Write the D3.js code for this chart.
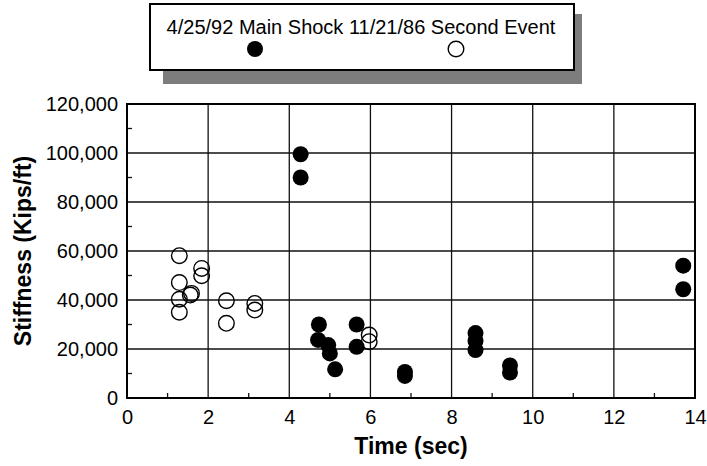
<!DOCTYPE html>
<html>
<head>
<meta charset="utf-8">
<script src="https://cdn.jsdelivr.net/npm/d3@7"></script>
<style>
  body { margin: 0; background: #fff; }
  text { font-family: "Liberation Sans", Arial, Helvetica, sans-serif; }
</style>
</head>
<body>
<div id="chart"></div>
<script>
// Main shock 4/25/92 (filled) : time (sec), stiffness (kips/ft)
var mainTime = [4.28, 4.28, 4.73, 4.71, 4.96, 5.0, 5.13, 5.66, 5.66, 6.85, 6.85, 8.59, 8.59, 8.59, 9.44, 9.44, 13.71, 13.71];
var mainStiff = [99500, 90000, 30000, 23700, 21600, 18200, 11700, 30000, 20900, 10600, 9000, 26500, 23300, 19600, 13300, 10400, 54000, 44400];

// Second event 11/21/86 (open)
var secondTime = [1.29, 1.84, 1.84, 1.29, 1.59, 1.56, 1.29, 1.29, 2.45, 2.45, 3.15, 3.15, 5.97, 5.97];
var secondStiff = [58100, 52900, 49900, 47100, 42700, 42000, 40300, 35000, 39700, 30500, 38600, 35900, 25700, 23000];

var xTicks = [0, 2, 4, 6, 8, 10, 12, 14];
var yTicks = [0, 20000, 40000, 60000, 80000, 100000, 120000];
var legendLabel = "4/25/92 Main Shock 11/21/86 Second Event";

var W = 707, H = 466;
var margin = {top: 104, right: 12, bottom: 68, left: 127};
var width = W - margin.left - margin.right;
var height = H - margin.top - margin.bottom;

var svg = d3.select("#chart").append("svg")
  .attr("width", W)
  .attr("height", H);

var g = svg.append("g")
  .attr("transform", "translate(" + margin.left + "," + margin.top + ")");

var x = d3.scaleLinear().domain([0, 14]).range([0, width]);
var y = d3.scaleLinear().domain([0, 120000]).range([height, 0]);

// grid lines
g.selectAll(".vgrid")
  .data(xTicks.slice(1, -1)).enter()
  .append("line")
  .attr("x1", function(d) { return x(d); })
  .attr("x2", function(d) { return x(d); })
  .attr("y1", 0).attr("y2", height)
  .attr("stroke", "#111").attr("stroke-width", 1.3);

g.selectAll(".hgrid")
  .data(yTicks.slice(1, -1)).enter()
  .append("line")
  .attr("y1", function(d) { return y(d); })
  .attr("y2", function(d) { return y(d); })
  .attr("x1", 0).attr("x2", width)
  .attr("stroke", "#111").attr("stroke-width", 1.3);

// minor ticks
var yMinor = d3.range(10000, 120000, 20000);
g.selectAll(".ymin")
  .data(yMinor).enter()
  .append("line")
  .attr("x1", 0).attr("x2", 5)
  .attr("y1", function(d) { return y(d); })
  .attr("y2", function(d) { return y(d); })
  .attr("stroke", "#111").attr("stroke-width", 1.3);

var xMinor = d3.range(1, 14, 2);
g.selectAll(".xmin")
  .data(xMinor).enter()
  .append("line")
  .attr("x1", function(d) { return x(d); })
  .attr("x2", function(d) { return x(d); })
  .attr("y1", height).attr("y2", height - 5)
  .attr("stroke", "#111").attr("stroke-width", 1.3);

// frame
g.append("rect")
  .attr("width", width).attr("height", height)
  .attr("fill", "none")
  .attr("stroke", "#000").attr("stroke-width", 2);

// tick labels
var xAxis = g.append("g")
  .attr("transform", "translate(0," + height + ")")
  .call(d3.axisBottom(x).tickValues(xTicks).tickSize(0).tickPadding(12));
xAxis.select(".domain").remove();
xAxis.selectAll("text")
  .style("font-size", "20px")
  .attr("fill", "#000");

var yAxis = g.append("g")
  .call(d3.axisLeft(y).tickValues(yTicks).tickSize(0).tickPadding(9)
    .tickFormat(d3.format(",")));
yAxis.select(".domain").remove();
yAxis.selectAll("text")
  .style("font-size", "20px")
  .attr("fill", "#000");

// axis titles
svg.append("text")
  .attr("x", margin.left + width / 2)
  .attr("y", 454)
  .attr("text-anchor", "middle")
  .style("font-size", "23px")
  .style("font-weight", "bold")
  .text("Time (sec)");

svg.append("text")
  .attr("transform", "translate(31," + (margin.top + height / 2) + ") rotate(-90)")
  .attr("text-anchor", "middle")
  .style("font-size", "23px")
  .style("font-weight", "bold")
  .text("Stiffness (Kips/ft)");

// points
var mainData = mainTime.map(function(t, i) { return {t: t, v: mainStiff[i]}; });
var secondData = secondTime.map(function(t, i) { return {t: t, v: secondStiff[i]}; });

g.selectAll(".open")
  .data(secondData).enter()
  .append("circle")
  .attr("cx", function(d) { return x(d.t); })
  .attr("cy", function(d) { return y(d.v); })
  .attr("r", 7.8)
  .attr("fill", "none")
  .attr("stroke", "#000")
  .attr("stroke-width", 1.4);

g.selectAll(".filled")
  .data(mainData).enter()
  .append("circle")
  .attr("cx", function(d) { return x(d.t); })
  .attr("cy", function(d) { return y(d.v); })
  .attr("r", 8)
  .attr("fill", "#000");

// legend with drop shadow
var leg = svg.append("g");
leg.append("rect")
  .attr("x", 163).attr("y", 14)
  .attr("width", 419).attr("height", 70)
  .attr("fill", "#7d7d7d");
leg.append("rect")
  .attr("x", 150).attr("y", 4)
  .attr("width", 424).attr("height", 66)
  .attr("fill", "#fff")
  .attr("stroke", "#000").attr("stroke-width", 2);
leg.append("text")
  .attr("x", 361).attr("y", 34)
  .attr("text-anchor", "middle")
  .style("font-size", "20px")
  .text(legendLabel);
leg.append("circle")
  .attr("cx", 255).attr("cy", 49).attr("r", 8)
  .attr("fill", "#000");
leg.append("circle")
  .attr("cx", 456).attr("cy", 49).attr("r", 7.8)
  .attr("fill", "none")
  .attr("stroke", "#000").attr("stroke-width", 1.4);
</script>
</body>
</html>
